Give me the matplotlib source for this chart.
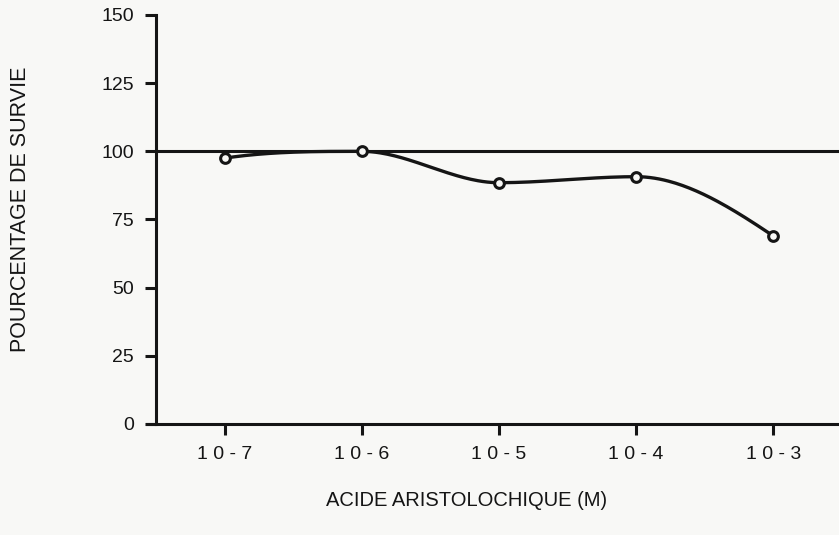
import numpy as np
import matplotlib
matplotlib.use("Agg")
import matplotlib.pyplot as plt

# ---- data ----
categories = ["1 0 - 7", "1 0 - 6", "1 0 - 5", "1 0 - 4", "1 0 - 3"]
survival = [97.5, 100.0, 88.5, 90.7, 69.0]
reference_level = 100
y_ticks = [0, 25, 50, 75, 100, 125, 150]
x_label = "ACIDE ARISTOLOCHIQUE (M)"
y_label = "POURCENTAGE DE SURVIE"

plt.rcParams['font.family'] = ['Liberation Sans', 'DejaVu Sans']
ink = '#151515'
bg = '#f8f8f6'


def pchip_curve(x, y, n=60):
    """Smooth monotone cubic drawn through the measured points."""
    x = np.asarray(x, float)
    y = np.asarray(y, float)
    h = np.diff(x)
    d = np.diff(y) / h
    m = np.zeros_like(y)
    for k in range(1, len(y) - 1):
        if d[k - 1] * d[k] > 0:
            w1 = 2 * h[k] + h[k - 1]
            w2 = h[k] + 2 * h[k - 1]
            m[k] = (w1 + w2) / (w1 / d[k - 1] + w2 / d[k])
        else:
            m[k] = 0.0

    def end(h0, h1, d0, d1):
        t = ((2 * h0 + h1) * d0 - h0 * d1) / (h0 + h1)
        if np.sign(t) != np.sign(d0):
            t = 0.0
        elif np.sign(d0) != np.sign(d1) and abs(t) > abs(3 * d0):
            t = 3 * d0
        return t

    m[0] = end(h[0], h[1], d[0], d[1])
    m[-1] = end(h[-1], h[-2], d[-1], d[-2])
    xs, ys = [], []
    for k in range(len(h)):
        t = np.linspace(0, 1, n)
        h00 = 2 * t**3 - 3 * t**2 + 1
        h10 = t**3 - 2 * t**2 + t
        h01 = -2 * t**3 + 3 * t**2
        h11 = t**3 - t**2
        xs.append(x[k] + t * h[k])
        ys.append(h00 * y[k] + h10 * h[k] * m[k] + h01 * y[k + 1] + h11 * h[k] * m[k + 1])
    return np.concatenate(xs), np.concatenate(ys)


fig = plt.figure(figsize=(8.39, 5.35), dpi=100, facecolor=bg)
ax = fig.add_axes([147 / 839, 1 - 424 / 535, 1 - 147 / 839, (424 - 15) / 535])
ax.set_facecolor(bg)

xpos = np.arange(len(categories))
ax.set_xlim(-0.566, 4.48)
ax.set_ylim(0, 150)

ax.hlines(reference_level, -0.5, 4.48, color=ink, lw=2.2, zorder=2)

cx, cy = pchip_curve(xpos, survival)
ax.plot(cx, cy, color=ink, lw=2.4, zorder=3, solid_capstyle='round')
ax.plot(xpos, survival, linestyle='none', marker='o', markersize=7,
        markerfacecolor=bg, markeredgecolor=ink, markeredgewidth=2.2, zorder=4)

for s in ['top', 'right']:
    ax.spines[s].set_visible(False)
ax.spines['left'].set_position(('data', -0.5))
for s in ['left', 'bottom']:
    ax.spines[s].set_linewidth(2.2)
    ax.spines[s].set_color(ink)

ax.set_xticks(xpos)
ax.set_xticklabels(categories)
ax.set_yticks(y_ticks)
ax.set_yticklabels([str(v) for v in y_ticks])
ax.tick_params(axis='x', direction='out', length=8, width=2.2, color=ink,
               labelsize=14, labelcolor=ink, pad=8)
ax.tick_params(axis='y', direction='out', length=8, width=2.2, color=ink,
               labelsize=14, labelcolor=ink, pad=8)

fig.text(467 / 839, 1 - 500 / 535, x_label, ha='center', va='center',
         fontsize=14.5, color=ink)
fig.text(21 / 839, 1 - 209 / 535, y_label, ha='center', va='center',
         rotation=90, fontsize=15.5, color=ink)

fig.savefig("out.png", dpi=100, facecolor=bg)
